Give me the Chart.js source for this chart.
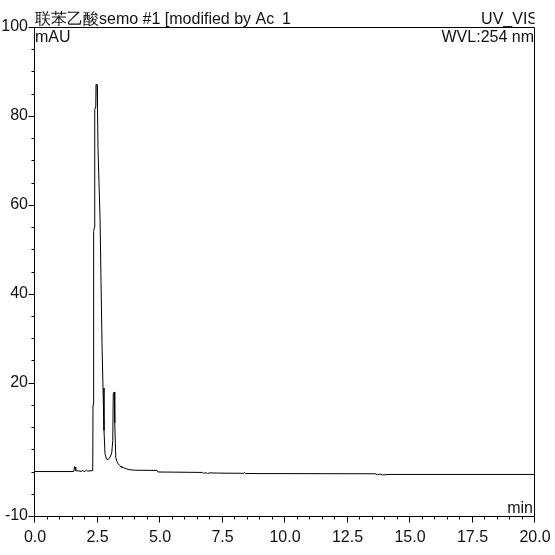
<!DOCTYPE html>
<html>
<head>
<meta charset="utf-8">
<script src="https://cdn.jsdelivr.net/npm/chart.js@4.4.0/dist/chart.umd.min.js"></script>
<style>
html,body{margin:0;padding:0;background:#fff;}
#wrap{width:555px;height:555px;position:relative;}
</style>
</head>
<body>
<div id="wrap"><canvas id="c" width="555" height="555"></canvas></div>
<script>
// ---- data ----
const times = [0, 1.55, 1.58, 1.60, 1.63, 1.80, 1.86, 1.90, 1.95, 2.00, 2.05, 2.10, 2.28, 2.31, 2.32, 2.34, 2.35, 2.38, 2.39, 2.43, 2.44, 2.48, 2.50, 2.52, 2.56, 2.60, 2.64, 2.68, 2.72, 2.76, 2.80, 2.86, 2.93, 3.00, 3.07, 3.11, 3.13, 3.17, 3.19, 3.23, 3.28, 3.33, 3.40, 3.44, 3.47, 3.50, 3.54, 3.60, 3.72, 3.80, 4.00, 4.88, 4.92, 6.70, 6.75, 6.85, 6.90, 7.00, 7.30, 8.35, 8.38, 8.42, 13.60, 13.70, 13.80, 13.90, 14.20, 20.00];
const signal = [0, 0, 1.1, 1.0, 0.2, 0.1, 0.0, 0.35, 0.0, 0.0, 0.35, 0.1, 0.2, 0.3, 15.0, 15.5, 54.0, 55.0, 81.5, 82.0, 87.1, 87.0, 81.3, 72.7, 65.0, 57.2, 43.0, 28.8, 18.8, 9.2, 4.0, 2.8, 2.7, 3.2, 4.2, 7.0, 17.5, 17.9, 11.0, 3.2, 2.2, 1.7, 1.3, 1.0, 1.2, 0.8, 0.9, 0.7, 0.5, 0.4, 0.3, 0.25, -0.1, -0.2, -0.4, -0.25, -0.45, -0.3, -0.35, -0.4, -0.2, -0.45, -0.5, -0.7, -0.55, -0.75, -0.65, -0.65];
const yTickLabels = [100, 80, 60, 40, 20, -10];
const xTickLabels = [0, 2.5, 5, 7.5, 10, 12.5, 15, 17.5, 20];
const titleText = "联苯乙酸semo #1 [modified by Ac";
const titleNum = "1";
const channelText = "UV_VIS";
const wvlText = "WVL:254 nm";
const yUnit = "mAU";
const xUnit = "min";

const FAMILY = "'Liberation Sans', Arial, sans-serif";
const FONT = "16px " + FAMILY;
const near = (v, arr) => arr.some(a => Math.abs(a - v) < 1e-6);

const decor = {
  id: 'decor',
  afterDraw(chart) {
    const ctx = chart.ctx;
    const a = chart.chartArea;
    const xs = chart.scales.x, ys = chart.scales.y;
    ctx.save();
    ctx.strokeStyle = '#000';
    ctx.lineWidth = 1;
    const L = Math.round(a.left) - 0.5, R = Math.round(a.right) - 0.5;
    const T = Math.round(a.top) + 0.5, B = Math.round(a.bottom) + 0.5;
    ctx.beginPath();
    ctx.moveTo(L, T); ctx.lineTo(R, T); ctx.lineTo(R, B); ctx.lineTo(L, B); ctx.closePath();
    ctx.stroke();
    // ticks
    ctx.beginPath();
    ys.ticks.forEach(t => {
      const p = Math.round(ys.getPixelForValue(t.value)) + 0.5;
      const len = near(t.value, yTickLabels) ? 6 : 3;
      ctx.moveTo(L - len, p); ctx.lineTo(L, p);
    });
    xs.ticks.forEach(t => {
      const p = Math.round(xs.getPixelForValue(t.value)) - 0.5;
      const len = near(t.value, xTickLabels) ? 6 : 3;
      ctx.moveTo(p, B); ctx.lineTo(p, B + len);
    });
    ctx.stroke();
    // texts
    ctx.fillStyle = '#111';
    ctx.font = FONT;
    ctx.textBaseline = 'alphabetic';
    ctx.textAlign = 'left';
    ctx.fillText(titleText, 35, 24);
    ctx.fillText(titleNum, 282, 24);
    ctx.fillText(yUnit, 35, 42);
    ctx.textAlign = 'right';
    ctx.save();
    ctx.beginPath(); ctx.rect(0, 0, R, 555); ctx.clip();
    ctx.fillText(channelText, 538, 24);
    ctx.restore();
    ctx.fillText(wvlText, 534, 42);
    ctx.fillText(xUnit, 533, 513);
    ctx.restore();
  }
};

new Chart(document.getElementById('c'), {
  type: 'line',
  data: {
    datasets: [{
      data: times.map((t, i) => ({x: t, y: signal[i]})),
      borderColor: '#000',
      borderWidth: 1,
      pointRadius: 0,
      tension: 0,
      fill: false
    }]
  },
  options: {
    responsive: false,
    devicePixelRatio: 1,
    animation: false,
    layout: {padding: {top: 27, right: 20, left: 0, bottom: 0}},
    plugins: {legend: {display: false}, tooltip: {enabled: false}},
    scales: {
      x: {
        type: 'linear', min: 0, max: 20,
        afterFit(s) { s.height = 39; s.paddingLeft = 0; s.paddingRight = 0; },
        border: {display: false},
        grid: {display: false, drawTicks: false},
        ticks: {
          stepSize: 0.5, autoSkip: false, maxRotation: 0, padding: 12,
          color: '#111', font: {family: FAMILY, size: 16},
          callback: v => near(v, xTickLabels) ? v.toFixed(1) : ''
        }
      },
      y: {
        type: 'linear', min: -10, max: 100,
        afterFit(s) { s.width = 35; s.paddingTop = 0; s.paddingBottom = 0; },
        border: {display: false},
        grid: {display: false, drawTicks: false},
        ticks: {
          stepSize: 5, autoSkip: false, padding: 7,
          color: '#111', font: {family: FAMILY, size: 16},
          callback: v => near(v, yTickLabels) ? String(v) : ''
        }
      }
    }
  },
  plugins: [decor]
});
</script>
</body>
</html>
